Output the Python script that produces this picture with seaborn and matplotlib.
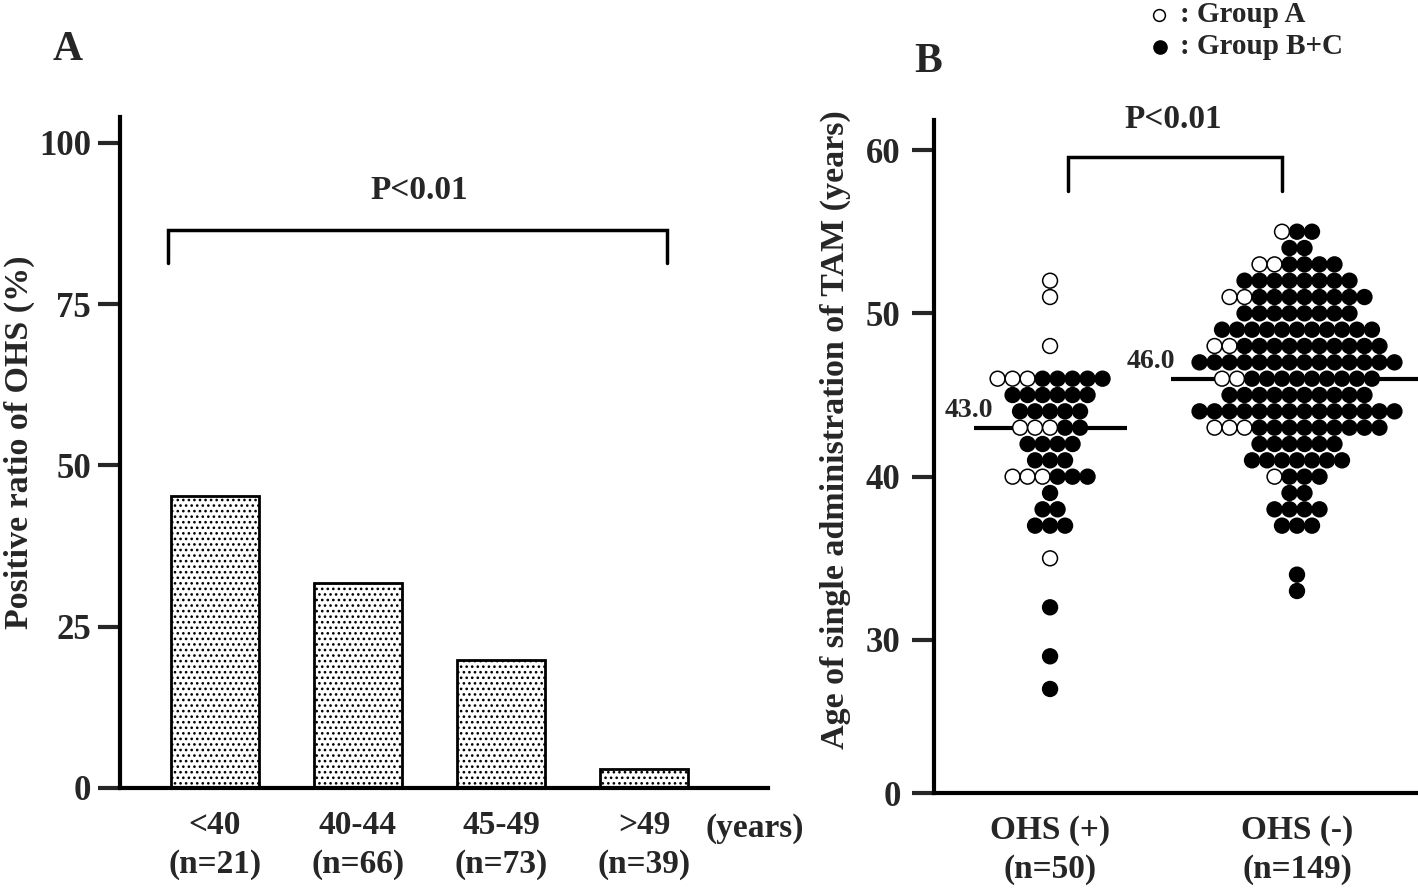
import numpy as np
import pandas as pd
import matplotlib
matplotlib.use('Agg')
import matplotlib.pyplot as plt
from matplotlib.lines import Line2D
import seaborn as sns

# ---------------- Panel A data ----------------
age_groups = ['<40', '40-44', '45-49', '>49']
group_n = [21, 66, 73, 39]
positive_ratio = [45.2, 31.8, 19.9, 3.0]
a_yticks = [0, 25, 50, 75, 100]

# ---------------- Panel B data ----------------
ohs_labels = ['OHS (+)', 'OHS (-)']
ohs_n = [50, 149]
# OHS (+): age rows, number of open (Group A) and filled (Group B+C) dots
ages_pos = [52, 51, 48, 46, 45, 44, 43, 42, 41, 40, 39, 38, 37, 35, 32, 29, 27]
open_pos = [1, 1, 1, 3, 0, 0, 3, 0, 0, 3, 0, 0, 0, 1, 0, 0, 0]
filled_pos = [0, 0, 0, 5, 6, 5, 2, 4, 3, 3, 1, 2, 3, 0, 1, 1, 1]
# OHS (-)
ages_neg = [55, 54, 53, 52, 51, 50, 49, 48, 47, 46, 45, 44, 43, 42, 41, 40, 39, 38, 37, 34, 33]
open_neg = [1, 0, 2, 0, 2, 0, 0, 2, 0, 2, 0, 0, 3, 0, 0, 1, 0, 0, 0, 0, 0]
filled_neg = [2, 2, 4, 8, 8, 8, 11, 10, 14, 9, 10, 14, 9, 6, 7, 3, 2, 4, 3, 1, 1]
group_names = ['Group A', 'Group B+C']
b_yticks = [0, 30, 40, 50, 60]
p_text = 'P<0.01'

# ---------------- build dot table ----------------
DX = 0.0607  # horizontal spacing of dots within a row (category units)
rows = []
medians = []
for gi, (ages, opens, filleds) in enumerate([(ages_pos, open_pos, filled_pos),
                                             (ages_neg, open_neg, filled_neg)]):
    expanded = []
    for a, o, f in zip(ages, opens, filleds):
        n = o + f
        expanded += [a] * n
        for k in range(n):
            rows.append({'x': gi + (k - (n - 1) / 2) * DX, 'age': a,
                         'group': group_names[0] if k < o else group_names[1]})
    medians.append(float(np.median(expanded)))
dots = pd.DataFrame(rows)

# ---------------- style ----------------
sns.set_theme(style='white')
plt.rcParams['font.family'] = ['Liberation Serif', 'DejaVu Serif']
plt.rcParams['font.weight'] = 'bold'
plt.rcParams['hatch.linewidth'] = 1.1
plt.rcParams['hatch.color'] = 'black'

W, H = 1418, 890
fig = plt.figure(figsize=(W / 100, H / 100), dpi=100)
axA = fig.add_axes([120 / W, 1 - 788 / H, 648 / W, 671 / H])
axB = fig.add_axes([934 / W, 1 - 793 / H, 484 / W, 673 / H])

SPINE_W = 3.0
FS_Y = 25
FS_X = 24
FS_LAB = 24.5

# ================= Panel A =================
dfA = pd.DataFrame({'grp': age_groups, 'ratio': positive_ratio})
sns.barplot(data=dfA, x='grp', y='ratio', color='white', edgecolor='black',
            linewidth=2.0, width=0.615, saturation=1, ax=axA, zorder=2)
for p in axA.patches:
    p.set_facecolor('white')
    p.set_hatch('...')
axA.set_xlim(-0.664, 3.867)
axA.set_ylim(0, 104)
axA.set_yticks(a_yticks)
axA.set_yticklabels([str(v) for v in a_yticks])
axA.set_xticks(range(len(age_groups)))
axA.set_xticklabels([f'{g}\n(n={n})' for g, n in zip(age_groups, group_n)],
                    linespacing=1.3)
axA.tick_params(axis='y', left=True, length=16, width=SPINE_W, labelsize=FS_Y, pad=5)
axA.tick_params(axis='x', bottom=False, length=0, labelsize=FS_X, pad=16)
for lab in axA.get_xticklabels() + axA.get_yticklabels():
    lab.set_fontweight('bold')
axA.set_xlabel('')
axA.set_ylabel('Positive ratio of OHS (%)', fontsize=FS_LAB, fontweight='bold')
axA.yaxis.set_label_coords(-0.131, 0.516)
sns.despine(ax=axA)
for s in ['left', 'bottom']:
    axA.spines[s].set_linewidth(SPINE_W)
    axA.spines[s].set_color('black')
# significance bracket
axA.plot([-0.33, -0.33, 3.16, 3.16], [81.4, 86.5, 86.5, 81.4], color='black',
         lw=2.5, solid_joinstyle='miter', clip_on=False)
axA.text(1.43, 92.6, p_text, ha='center', va='center', fontsize=FS_X,
         fontweight='bold')
fig.text(755 / W, 1 - 828 / H, '(years)', ha='center', va='center',
         fontsize=FS_X, fontweight='bold')

# ================= Panel B =================
BRK_POS, BRK_VAL = 20.63, 21.0


def fwd(y):
    y = np.asarray(y, dtype=float)
    return np.where(y >= BRK_VAL, y, BRK_POS + y * (BRK_VAL - BRK_POS) / BRK_VAL)


def inv(t):
    t = np.asarray(t, dtype=float)
    return np.where(t >= BRK_VAL, t, (t - BRK_POS) * BRK_VAL / (BRK_VAL - BRK_POS))


axB.set_yscale('function', functions=(fwd, inv))

# median lines (behind dots)
half_w = [0.31, 0.51]
for gi, med in enumerate(medians):
    axB.plot([gi - half_w[gi], gi + half_w[gi]], [med, med], color='black',
             lw=3.0, zorder=1, solid_capstyle='butt')

sns.scatterplot(data=dots, x='x', y='age', hue='group',
                palette={group_names[0]: 'white', group_names[1]: 'black'},
                edgecolor='black', linewidth=1.1, s=114, ax=axB, legend=False,
                zorder=3)

label_dx = [-0.23, -0.494]
for gi, med in enumerate(medians):
    axB.text(gi + label_dx[gi], med + 0.3, f'{med:.1f}', ha='right', va='bottom',
             fontsize=20, fontweight='bold')

axB.set_xlim(-0.47, 1.49)
axB.set_ylim(0, 61.84)
axB.set_yticks(b_yticks)
axB.set_yticklabels([str(v) for v in b_yticks])
axB.yaxis.set_minor_locator(matplotlib.ticker.NullLocator())
axB.set_xticks([0, 1])
axB.set_xticklabels([f'{l}\n(n={n})' for l, n in zip(ohs_labels, ohs_n)],
                    linespacing=1.3)
axB.tick_params(axis='y', left=True, length=16, width=SPINE_W, labelsize=FS_Y, pad=8)
axB.tick_params(axis='x', bottom=False, length=0, labelsize=FS_X, pad=16)
for lab in axB.get_xticklabels() + axB.get_yticklabels():
    lab.set_fontweight('bold')
axB.set_xlabel('')
axB.set_ylabel('Age of single administration of TAM (years)', fontsize=FS_LAB,
               fontweight='bold')
axB.yaxis.set_label_coords(-0.171, 0.54)
sns.despine(ax=axB)
for s in ['left', 'bottom']:
    axB.spines[s].set_linewidth(SPINE_W)
    axB.spines[s].set_color('black')

axB.plot([0.073, 0.073, 0.94, 0.94], [57.5, 59.6, 59.6, 57.5], color='black',
         lw=2.5, solid_joinstyle='miter', clip_on=False)
axB.text(0.5, 61.9, p_text, ha='center', va='center', fontsize=FS_X,
         fontweight='bold', clip_on=False)

# panel letters
fig.text(68 / W, 1 - 50 / H, 'A', ha='center', va='center', fontsize=30,
         fontweight='bold')
fig.text(928 / W, 1 - 62 / H, 'B', ha='center', va='center', fontsize=30,
         fontweight='bold')

# legend (top right)
fig.add_artist(Line2D([1159 / W], [1 - 15 / H], marker='o', markersize=8.5,
                      markerfacecolor='white', markeredgecolor='black',
                      markeredgewidth=1.1, linestyle='none',
                      transform=fig.transFigure))
fig.add_artist(Line2D([1160 / W], [1 - 47 / H], marker='o', markersize=9.5,
                      markerfacecolor='black', markeredgecolor='black',
                      linestyle='none', transform=fig.transFigure))
fig.text(1180 / W, 1 - 15 / H, ': ' + group_names[0], ha='left', va='center',
         fontsize=21, fontweight='bold')
fig.text(1180 / W, 1 - 47 / H, ': ' + group_names[1], ha='left', va='center',
         fontsize=21, fontweight='bold')

fig.savefig('out.png', dpi=100)
